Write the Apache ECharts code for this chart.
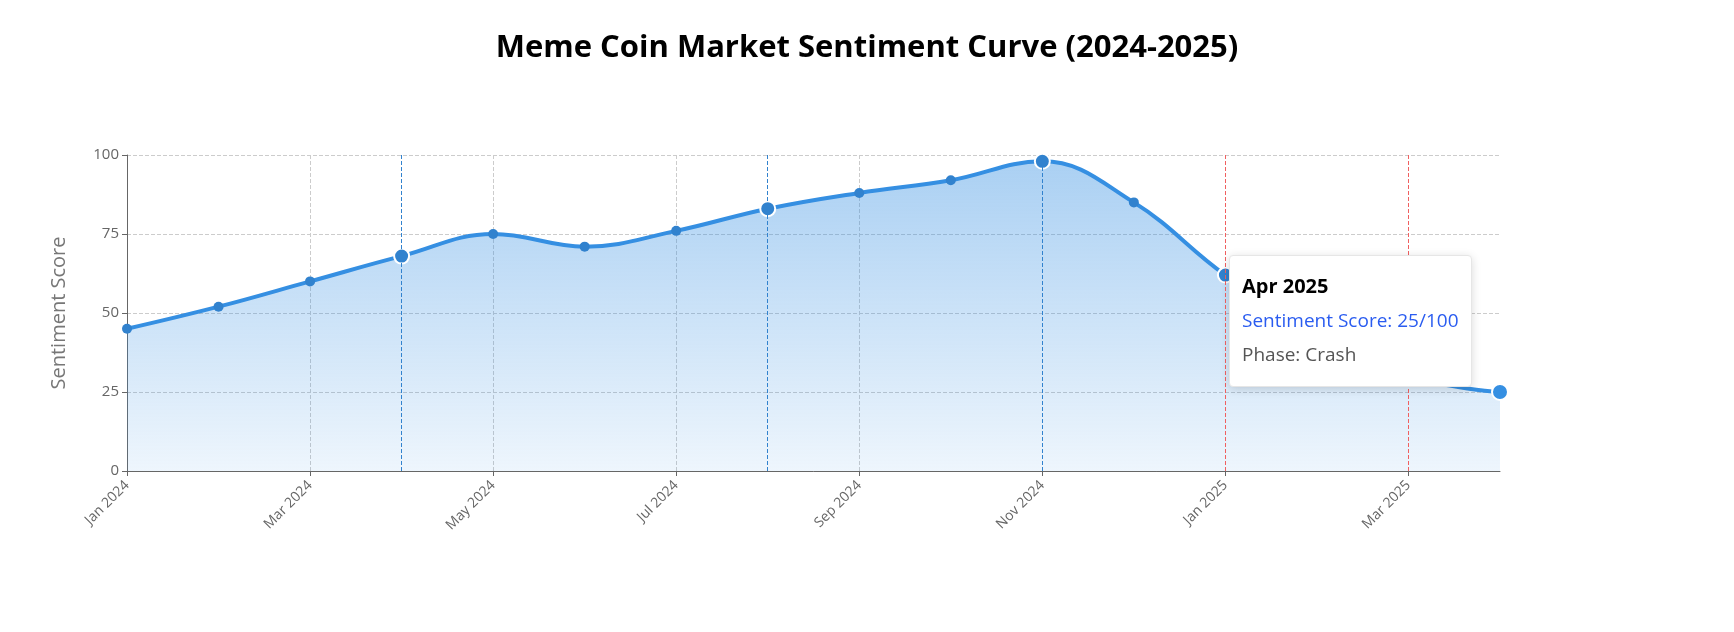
<!DOCTYPE html>
<html><head><meta charset="utf-8">
<script src="https://cdn.jsdelivr.net/npm/echarts@6/dist/echarts.min.js"></script>
<style>html,body{margin:0;padding:0;background:#fff}#c{width:1734px;height:632px}</style>
</head><body><div id="c"></div>
<script>
const categories=['Jan 2024','Feb 2024','Mar 2024','Apr 2024','May 2024','Jun 2024','Jul 2024','Aug 2024','Sep 2024','Oct 2024','Nov 2024','Dec 2024','Jan 2025','Feb 2025','Mar 2025','Apr 2025'];
const scores=[45,52,60,68,75,71,76,83,88,92,98,85,62,44,30,25];
const phases=['Accumulation','Accumulation','Growth','Growth','Hype','Correction','Recovery','Growth','Growth','Euphoria','Peak','Distribution','Decline','Decline','Crash','Crash'];
const keyIdx=[3,7,10,12,14];
const blueLines=['Apr 2024','Aug 2024','Nov 2024'];
const redLines=['Jan 2025','Mar 2025'];
const yTicks=[0,25,50,75,100];
const font='"Open Sans","Noto Sans",sans-serif';
const chart=echarts.init(document.getElementById('c'));
chart.setOption({
  textStyle:{fontFamily:font},
  title:{text:'Meme Coin Market Sentiment Curve (2024-2025)',left:'center',top:28,textStyle:{fontSize:31,fontWeight:'bold',color:'#000',fontFamily:font}},
  grid:{left:127,right:234,top:155,bottom:161},
  tooltip:{trigger:'item',backgroundColor:'#fff',borderColor:'#e6e6e6',borderWidth:1,padding:[14,12],
    extraCssText:'box-shadow:0 2px 10px rgba(0,0,0,0.15);border-radius:4px;',
    position:function(p){return [p[0]-271,p[1]-137];},
    formatter:function(p){return '<div style="font-family:'+font.replace(/"/g,"'")+';line-height:32px"><b style="font-size:20px;color:#000">'+p.name+'</b><br><span style="font-size:19px;color:#2a5cf0">Sentiment Score: '+p.value+'/100</span><br><span style="font-size:19px;color:#555">Phase: '+phases[p.dataIndex]+'</span></div>';}},
  xAxis:{type:'category',data:categories,boundaryGap:false,
    axisLine:{lineStyle:{color:'#666'}},axisTick:{interval:1,lineStyle:{color:'#666'}},
    axisLabel:{interval:1,rotate:45,color:'#666',fontSize:14,fontFamily:font,margin:12},
    splitLine:{show:true,interval:1,lineStyle:{type:'dashed',color:'#ccc'}}},
  yAxis:{type:'value',min:0,max:100,interval:25,name:'Sentiment Score',nameLocation:'middle',nameGap:58,
    nameTextStyle:{fontSize:20,color:'#777',fontFamily:font},
    axisLine:{show:true,lineStyle:{color:'#666'}},axisTick:{show:true,lineStyle:{color:'#666'}},
    axisLabel:{color:'#666',fontSize:15,fontFamily:font,formatter:v=>yTicks.includes(v)?String(v):''},
    splitLine:{lineStyle:{type:'dashed',color:'#ccc'}}},
  series:[{type:'line',smooth:0.4,symbol:'circle',
    data:scores.map((v,i)=>keyIdx.includes(i)?{value:v,symbolSize:15,itemStyle:{borderColor:'#fff',borderWidth:2}}:{value:v,symbolSize:10}),
    lineStyle:{width:4,color:'#3182ce'},itemStyle:{color:'#3182ce'},
    emphasis:{scale:1.6,itemStyle:{borderColor:'#fff',borderWidth:2}},
    areaStyle:{color:new echarts.graphic.LinearGradient(0,0,0,1,[{offset:0,color:'rgba(49,130,206,0.6)'},{offset:1,color:'rgba(49,130,206,0.12)'}])},
    markLine:{symbol:'none',silent:true,label:{show:false},
      data:blueLines.map(c=>({xAxis:c,lineStyle:{color:'#3182ce',type:'dashed',width:1}})).concat(redLines.map(c=>({xAxis:c,lineStyle:{color:'#f06060',type:'dashed',width:1}})))}
  }]
});
setTimeout(()=>{chart.dispatchAction({type:'highlight',seriesIndex:0,dataIndex:15});chart.dispatchAction({type:'showTip',seriesIndex:0,dataIndex:15});},300);
</script></body></html>
